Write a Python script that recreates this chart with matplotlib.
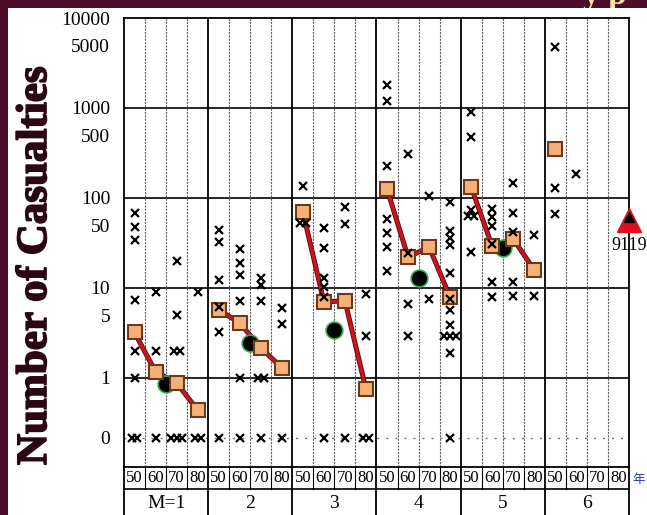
import numpy as np
import matplotlib
matplotlib.use("Agg")
import matplotlib.pyplot as plt
import matplotlib.patheffects as pe
from matplotlib.patches import Rectangle
from matplotlib.ticker import NullFormatter

# one list per column: M group 1..6, each split in decades 50,60,70,80
# value 0 means "no casualties" (drawn on the 0 row)
crosses = [
    [68, 47, 34, 7.4, 2.0, 1.0, 0, 0],      # M=1
    [9, 2.0, 0],
    [20, 5, 2, 2, 0, 0, 0],
    [9, 0, 0],
    [44, 32, 12.3, 6.2, 3.2, 0],            # M=2
    [27, 19, 14, 7.2, 1, 0],
    [13, 10.8, 7.2, 1, 1, 0],
    [6, 4, 0],
    [135, 53, 53],                          # M=3
    [46, 28, 13, 10.3, 8, 0],
    [80, 51, 0],
    [8.6, 2.9, 0, 0],
    [1800, 1200, 228, 58, 41, 28.5, 15.5],  # M=4
    [310, 24.5, 6.6, 2.9],
    [105, 7.6],
    [90, 43, 36, 30, 14.7, 7.6, 5.7, 3.9, 2.9, 2.9, 2.9, 1.9, 0],
    [910, 475, 74, 63, 63, 25],             # M=5
    [75, 62, 49, 31, 11.7, 7.9],
    [146, 68, 42, 11.7, 8.1],
    [39, 8.1],
    [4800, 129, 66],                        # M=6
    [184],
    [],
    [],
]
# orange squares (decade means) per group
means = [
    [3.2, 1.17, 0.88, 0.44],
    [5.7, 4.1, 2.15, 1.3],
    [70, 7.0, 7.2, 0.75],
    [126, 22, 28.5, 7.9],
    [132, 29, 35, 15.8],
    [350],
]
# green/black dots = overall mean of group
circles = [0.85, 2.45, 3.4, 12.9, 28]
tri_value = 57
tri_label = "9119"

groups = ["M=1", "2", "3", "4", "5", "6"]
decades = ["50", "60", "70", "80"]
ytick_vals = [1, 5, 10, 50, 100, 500, 1000, 5000, 10000]

ZERO = 10 ** -0.667   # where the "0" row sits on the log axis

serif = "Liberation Serif"

W, H = 647, 515
fig = plt.figure(figsize=(W / 100, H / 100), dpi=100, facecolor="#4e0d28")

# partial gold title, mostly hidden under the white sheet
fig.text(583 / W, 1 - 4 / H, "y p", fontsize=24, fontweight="bold",
         family=serif, color="#f3e3a6", va="baseline", zorder=-10)
fig.patches.append(Rectangle((8 / W, 0), 1 - 8 / W, 507 / H, transform=fig.transFigure,
                             facecolor="white", edgecolor="none", zorder=-5))

L, R, T, B = 124, 629, 18, 467
ax = fig.add_axes([L / W, 1 - B / H, (R - L) / W, (B - T) / H])
ax.set_yscale("log")
ax.set_xlim(0, 24)
ax.set_ylim(10 ** -0.99, 10000)

# grid
for v in [1, 10, 100, 1000]:
    ax.axhline(v, color="black", lw=1.2, zorder=1)
ax.axhline(ZERO, color="#777777", lw=1, ls=(0, (1.5, 5)), zorder=1)
for i in range(1, 24):
    if i % 4 == 0:
        ax.axvline(i, color="black", lw=1.3, zorder=1)
    else:
        ax.axvline(i, color="#606060", lw=0.8, ls=(0, (2, 1)), zorder=1)

# crosses, duplicates placed side by side
xs, ys = [], []
for c, vals in enumerate(crosses):
    uniq, counts = np.unique(vals, return_counts=True)
    for u, n in zip(uniq, counts):
        offs = (np.arange(n) - (n - 1) / 2) * 0.28
        for o in offs:
            xs.append(c + 0.5 + o)
            ys.append(u if u > 0 else ZERO)
ax.plot(xs, ys, "x", color="black", ms=5.5, mew=1.6, zorder=6, clip_on=False)

# group mean lines + squares
for g, vals in enumerate(means):
    cx = g * 4 + 0.5 + np.arange(len(vals))
    ax.plot(cx, vals, "-", color="#cc1420", lw=2.4, zorder=3,
            path_effects=[pe.Stroke(linewidth=3.6, foreground="#5a0808"), pe.Normal()])
    ax.plot(cx, vals, "s", ms=10, mfc="#f6b077", mec="#6b3a1c", mew=1.5, zorder=5)

gx = np.arange(len(circles)) * 4 + 2
ax.plot(gx, circles, "o", ms=12, mfc="black", mec="#2fa84f", mew=1.2, zorder=4)

# red triangle on the right edge
ax.plot([24], [tri_value], "^", ms=17, mfc="#e0101a", mec="#e0101a", zorder=7, clip_on=False)
ax.plot([24], [tri_value * 1.08], "^", ms=7, mfc="black", mec="black", zorder=8, clip_on=False)
ax.annotate(tri_label, (24, tri_value), xytext=(0, -12), textcoords="offset points",
            ha="center", va="top", fontsize=13, family=serif, annotation_clip=False)

# y axis
ax.set_yticks([ZERO] + ytick_vals, ["0"] + [str(v) for v in ytick_vals])
ax.set_yticks([5, 50, 500, 5000], minor=True)
ax.yaxis.set_minor_formatter(NullFormatter())
ax.tick_params(axis="y", which="major", length=0, pad=10, labelsize=14)
ax.tick_params(axis="y", which="minor", length=6, direction="in", width=1)
for lab in ax.get_yticklabels():
    lab.set_family(serif)
ax.set_xticks([])
for s in ax.spines.values():
    s.set_linewidth(1.3)

# table with decades / M groups below
tab = fig.add_axes([L / W, 0, (R - L) / W, (H - B) / H])
tab.set_xlim(0, 24)
tab.set_ylim(0, H - B)
tab.axis("off")
tab.axhline(26, color="black", lw=1.2)
for i in range(25):
    if i % 4 == 0:
        tab.plot([i, i], [0, H - B], color="black", lw=1.3, clip_on=False)
    else:
        tab.plot([i, i], [26, H - B], color="black", lw=0.8)
for c in range(24):
    tab.text(c + 0.5, 37, decades[c % 4], ha="center", va="center",
             fontsize=12, family=serif)
for g, name in enumerate(groups):
    tab.text(g * 4 + 2, 12, name, ha="center", va="center", fontsize=14, family=serif)

fig.text(639 / W, 1 - 479 / H, "年", fontsize=9, color="#2030c0",
         family="Noto Sans CJK JP", ha="center", va="center")

fig.text(36 / W, 1 - 266 / H, "Number of Casualties", rotation=90, fontsize=31,
         fontweight="bold", family=serif, color="#2b0714", ha="center", va="center",
         zorder=5,
         path_effects=[pe.withStroke(linewidth=1.2, foreground="#2b0714")])

fig.savefig("out.png", dpi=100, facecolor=fig.get_facecolor())
